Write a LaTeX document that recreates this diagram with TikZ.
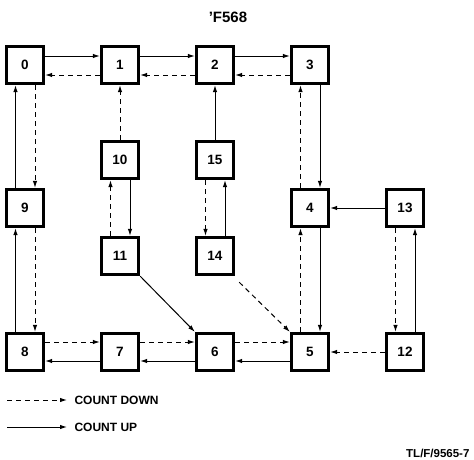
\documentclass[tikz,border=0pt]{standalone}
\usepackage{fontspec}
\setmainfont{Liberation Sans}
\usetikzlibrary{arrows.meta}
\begin{document}
\begin{tikzpicture}[x=1pt,y=-1pt,
  st/.style={draw,line width=2.8pt,minimum size=37.5pt,inner sep=0pt,font=\bfseries\fontsize{13.5}{16}\selectfont},
  up/.style={line width=1pt,-{Latex[length=7pt,width=4.5pt]}},
  dn/.style={up,dash pattern=on 5pt off 4pt},
  lg/.style={anchor=west,font=\bfseries\fontsize{12}{14}\selectfont}]
\useasboundingbox (0,0) rectangle (474,459);
\node[font=\bfseries\fontsize{15}{17}\selectfont] (title) at (228,17) {'F568};
\node[st] (n0) at (25,65) {0};
\node[st] (n1) at (120,65) {1};
\node[st] (n2) at (215,65) {2};
\node[st] (n3) at (310,65) {3};
\node[st] (n10) at (120,160) {10};
\node[st] (n15) at (215,160) {15};
\node[st] (n9) at (25,208) {9};
\node[st] (n4) at (310,208) {4};
\node[st] (n13) at (405,208) {13};
\node[st] (n11) at (120,256) {11};
\node[st] (n14) at (215,256) {14};
\node[st] (n8) at (25,352) {8};
\node[st] (n7) at (120,352) {7};
\node[st] (n6) at (215,352) {6};
\node[st] (n5) at (310,352) {5};
\node[st] (n12) at (405,352) {12};
% top row
\draw[up] ([yshift=9pt]n0.east) -- ([yshift=9pt]n1.west);
\draw[dn] ([yshift=-10pt]n1.west) -- ([yshift=-10pt]n0.east);
\draw[up] ([yshift=9pt]n1.east) -- ([yshift=9pt]n2.west);
\draw[dn] ([yshift=-10pt]n2.west) -- ([yshift=-10pt]n1.east);
\draw[up] ([yshift=9pt]n2.east) -- ([yshift=9pt]n3.west);
\draw[dn] ([yshift=-10pt]n3.west) -- ([yshift=-10pt]n2.east);
% left column
\draw[up] ([xshift=-9.5pt]n9.north) -- ([xshift=-9.5pt]n0.south);
\draw[dn] ([xshift=10pt]n0.south) -- ([xshift=10pt]n9.north);
\draw[up] ([xshift=-9.5pt]n8.north) -- ([xshift=-9.5pt]n9.south);
\draw[dn] ([xshift=10pt]n9.south) -- ([xshift=10pt]n8.north);
% middle
\draw[dn] (n10) -- (n1);
\draw[up] (n15) -- (n2);
\draw[dn] ([xshift=-9.5pt]n11.north) -- ([xshift=-9.5pt]n10.south);
\draw[up] ([xshift=10pt]n10.south) -- ([xshift=10pt]n11.north);
\draw[dn] ([xshift=-9.5pt]n15.south) -- ([xshift=-9.5pt]n14.north);
\draw[up] ([xshift=10pt]n14.north) -- ([xshift=10pt]n15.south);
% right column
\draw[up] ([xshift=10pt]n3.south) -- ([xshift=10pt]n4.north);
\draw[dn] ([xshift=-9.5pt]n4.north) -- ([xshift=-9.5pt]n3.south);
\draw[up] ([xshift=10pt]n4.south) -- ([xshift=10pt]n5.north);
\draw[dn] ([xshift=-9.5pt]n5.north) -- ([xshift=-9.5pt]n4.south);
\draw[up] (n13) -- (n4);
\draw[dn] ([xshift=-9.5pt]n13.south) -- ([xshift=-9.5pt]n12.north);
\draw[up] ([xshift=10pt]n12.north) -- ([xshift=10pt]n13.south);
% bottom row
\draw[dn] ([yshift=10pt]n8.east) -- ([yshift=10pt]n7.west);
\draw[up] ([yshift=-9pt]n7.west) -- ([yshift=-9pt]n8.east);
\draw[dn] ([yshift=10pt]n7.east) -- ([yshift=10pt]n6.west);
\draw[up] ([yshift=-9pt]n6.west) -- ([yshift=-9pt]n7.east);
\draw[dn] ([yshift=10pt]n6.east) -- ([yshift=10pt]n5.west);
\draw[up] ([yshift=-9pt]n5.west) -- ([yshift=-9pt]n6.east);
\draw[dn] (n12) -- (n5);
% diagonals
\draw[up] (n11.south east) -- (n6.north west);
\draw[dn] ([shift={(4pt,-6pt)}]n14.south east) -- (n5.north west);
% legend
\coordinate (ld1) at (7,400);
\coordinate (ld2) at (67,400);
\coordinate (lu1) at (7,427);
\coordinate (lu2) at (67,427);
\draw[dn] (ld1) -- (ld2);
\draw[up] (lu1) -- (lu2);
\node[lg] (tdn) at (71,400) {COUNT DOWN};
\node[lg] (tup) at (71,427) {COUNT UP};
\node[anchor=east,font=\bfseries\fontsize{11.5}{14}\selectfont] (ref) at (473,453) {TL/F/9565-7};
\end{tikzpicture}
\end{document}
